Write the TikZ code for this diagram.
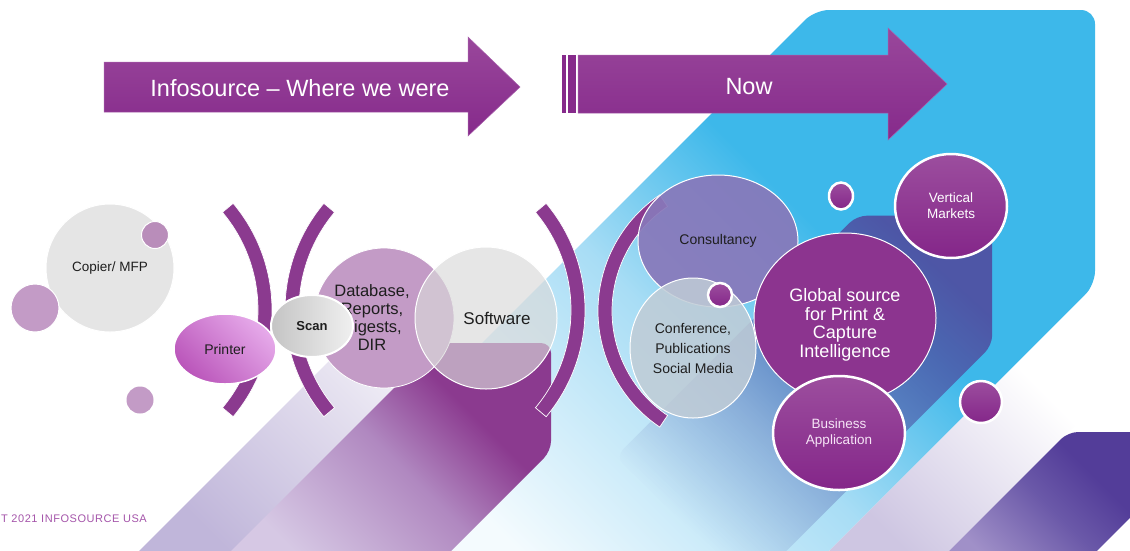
\documentclass[tikz,border=0pt]{standalone}
\usepackage{fontspec}
\setmainfont{Liberation Sans}
\newfontfamily\footfont[LetterSpace=5]{Liberation Sans}
\usetikzlibrary{shapes.geometric,calc,fadings}

\definecolor{lavA}{HTML}{C0B6DA}
\definecolor{lavB}{HTML}{E6E2F0}
\definecolor{purA}{HTML}{D6C8E4}
\definecolor{purB}{HTML}{B088C0}
\definecolor{purC}{HTML}{8B3A8F}
\definecolor{blA}{HTML}{F4FBFE}
\definecolor{blB}{HTML}{A8DDF5}
\definecolor{blC}{HTML}{3DB8EA}
\definecolor{inC}{HTML}{4E56A6}
\definecolor{brA}{HTML}{CEC6E2}
\definecolor{coA}{HTML}{A090C8}
\definecolor{coB}{HTML}{6A58A8}
\definecolor{coC}{HTML}{533D99}
\definecolor{arT}{HTML}{99479B}
\definecolor{arB}{HTML}{862A8B}
\definecolor{arE}{HTML}{A860AC}
\definecolor{brk}{HTML}{8B3A8F}
\definecolor{mauve}{HTML}{C39BC6}
\definecolor{mauveB}{HTML}{B98DBA}
\definecolor{lgray}{HTML}{E5E5E5}
\definecolor{txtd}{HTML}{1E1E1E}
\definecolor{prA}{HTML}{BA55BA}
\definecolor{prB}{HTML}{E6AAEA}
\definecolor{scA}{HTML}{C4C4C4}
\definecolor{scB}{HTML}{F0F0F0}
\definecolor{consc}{HTML}{8878BA}
\definecolor{confc}{HTML}{C0CCD6}
\definecolor{glob}{HTML}{8C348F}
\definecolor{vmT}{HTML}{9C4E9E}
\definecolor{vmB}{HTML}{842689}
\definecolor{bizt}{HTML}{F6E4F6}
\definecolor{footc}{HTML}{A555AA}

\pgfdeclarehorizontalshading{lavfade}{100bp}{color(0bp)=(lavA); color(25bp)=(lavA); color(52bp)=(lavB); color(68bp)=(white); color(100bp)=(white)}
\pgfdeclarehorizontalshading{purfade}{100bp}{color(0bp)=(purA); color(25bp)=(purA); color(50bp)=(purB); color(66bp)=(purC); color(100bp)=(purC)}
\pgfdeclarehorizontalshading{bluefade}{100bp}{color(0bp)=(blA); color(28bp)=(blA); color(47bp)=(blB); color(60bp)=(blC); color(100bp)=(blC)}
\pgfdeclarehorizontalshading{bandfade}{100bp}{color(0bp)=(brA); color(25bp)=(brA); color(58bp)=(white); color(100bp)=(white)}
\pgfdeclarehorizontalshading{cornfade}{100bp}{color(0bp)=(coA); color(25bp)=(coA); color(50bp)=(coB); color(66bp)=(coC); color(100bp)=(coC)}

\tikzset{
  arrowsty/.style={top color=arT, bottom color=arB, draw=arE, line width=0.5pt},
  arrowtxt/.style={text=white, font=\fontsize{23.5}{27}\selectfont},
  bracketsty/.style={fill=brk, draw=white, line width=0.7pt},
  dot/.style={circle, inner sep=0pt, draw=white, line width=1pt},
  pdot/.style={circle, inner sep=0pt, draw=white, line width=2.5pt, top color=vmT, bottom color=vmB},
  bubble/.style={ellipse, inner sep=0pt, align=center},
  darktxt/.style={text=txtd},
}

\newcommand{\mybracket}[6]{%
  \path[bracketsty] ($(#1,#2)+(#5:#4)$) arc[start angle=#5,end angle=#6,radius=#4]
    -- ($(#1,#2)+(#6:#3)$) arc[start angle=#6,end angle=#5,radius=#3] -- cycle;}

\begin{document}
\begin{tikzpicture}[x=1pt,y=-1pt]
\useasboundingbox (0,0) rectangle (1130,550);
\begin{scope}
\clip (0,0) rectangle (1130,550);
\fill[white] (0,0) rectangle (1130,550);
% lavender band (left)
\path[shading=lavfade, shading angle=45] (130,560) -- (420,270) -- (560,270) -- (560,560) -- cycle;
% big blue shape
\path[shading=bluefade, shading angle=45, rounded corners=14pt]
  (265,560) -- (815,10) -- (1095,10) -- (1095,285) -- (820,560) -- cycle;
% indigo shape
\path[fill=inC, path fading=east, fading angle=225, rounded corners=10pt]
  (716,560) -- (615,459) -- (857,217) -- (993,217) -- (993,347) -- (780,560) -- cycle;
% purple shape
\path[shading=purfade, shading angle=45, rounded corners=10pt]
  (222,560) -- (439,343) -- (551,343) -- (551,451) -- (442,560) -- cycle;
% bottom-right band
\path[shading=bandfade, shading angle=45] (820,560) -- (1140,240) -- (1140,360) -- (940,560) -- cycle;
% bottom-right purple corner
\path[shading=cornfade, shading angle=45, rounded corners=10pt]
  (940,560) -- (1068,432) -- (1140,432) -- (1140,560) -- cycle;
\fill[white] (1140,508) -- (1140,560) -- (1088,560) -- cycle;
\end{scope}

% arrows
\path[arrowsty] (104,62) -- (468,62) -- (468,37) -- (520,87) -- (468,136) -- (468,112) -- (104,112) -- cycle;
\node[arrowtxt] (were) at (300,88) {Infosource – Where we were};
\fill[arB] (562,55) rectangle (565.5,113);
\fill[arB] (568,55) rectangle (576,113);
\path[arrowsty] (578,55) -- (888,55) -- (888,28) -- (947,84) -- (888,140) -- (888,113) -- (578,113) -- cycle;
\node[arrowtxt] (now) at (749,87) {Now};

% brackets
\mybracket{106}{310}{152}{166}{-40}{40}
\mybracket{451}{310}{152}{166}{140}{220}
\mybracket{419}{310}{152}{166}{-40}{40}
\mybracket{738}{311}{126}{140}{124}{236}

% left group
\node[circle, inner sep=0pt, minimum size=128pt, fill=lgray, draw=white, line width=1pt] (copier) at (110,268) {};
\node[darktxt, font=\fontsize{13.5}{16}\selectfont] (copiertxt) at (110,268) {Copier/ MFP};
\node[dot, minimum size=27pt, fill=mauveB] (s1) at (155,235) {};
\node[dot, minimum size=48pt, fill=mauve] (s2) at (35,308) {};
\node[dot, minimum size=27pt, fill=mauve, draw=none] (s3) at (140,400) {};
\node[bubble, minimum width=102pt, minimum height=70pt, bottom color=prA, top color=prB, shading angle=-45, draw=white, line width=1.5pt, darktxt, font=\fontsize{14}{16}\selectfont] (printer) at (225,349) {Printer};

\node[circle, inner sep=0pt, minimum size=140pt, fill=mauve, draw=white, line width=0.8pt] (database) at (384,318) {};
\node[darktxt, align=center, font=\fontsize{16.5}{18}\selectfont] (dbtxt) at (372,318) {Database,\\Reports,\\Digests,\\DIR};
\node[circle, inner sep=0pt, minimum size=142pt, fill=gray!30, fill opacity=0.65, draw=white, draw opacity=1, line width=1pt] (software) at (486,318) {};
\node[darktxt, font=\fontsize{17}{20}\selectfont] (swtxt) at (497,318) {Software};
\node[bubble, minimum width=82pt, minimum height=62pt, left color=scA, right color=scB, draw=white, line width=2pt, darktxt, font=\bfseries\fontsize{13}{15}\selectfont] (scan) at (312,326) {Scan};

% right group
\node[bubble, minimum width=160pt, minimum height=132pt, fill=consc, fill opacity=0.92, text opacity=1, draw=white, line width=1pt, darktxt, font=\fontsize{14}{16}\selectfont] (consult) at (718,241) {Consultancy};
\node[bubble, minimum width=126pt, minimum height=140pt, fill=confc, fill opacity=0.85, text opacity=1, draw=white, line width=1pt, darktxt, font=\fontsize{14}{20}\selectfont] (conf) at (693,348) {Conference,\\Publications\\Social Media};
\node[pdot, minimum size=24pt] (s4) at (720,295) {};
\node[ellipse, inner sep=0pt, minimum width=182pt, minimum height=170pt, fill=glob, draw=white, line width=1pt] (global) at (845,318) {};
\node[text=white, align=center, font=\fontsize{18}{18.5}\selectfont] (globtxt) at (845,325) {Global source\\for Print \&\\Capture\\Intelligence};
\node[bubble, minimum width=112pt, minimum height=104pt, top color=vmT, bottom color=vmB, draw=white, line width=2.5pt, text=white, font=\fontsize{13.5}{16}\selectfont] (vertical) at (951,206) {Vertical\\Markets};
\node[bubble, minimum width=132pt, minimum height=114pt, top color=vmT, bottom color=vmB, draw=white, line width=2.5pt, text=bizt, font=\fontsize{13.5}{16}\selectfont] (business) at (839,433) {Business\\Application};
\node[pdot, ellipse, minimum width=24pt, minimum height=27pt] (s5) at (841,196) {};
\node[pdot, minimum size=42pt] (s6) at (981,402) {};

% footer
\node[anchor=east, text=footc, inner sep=0pt, font=\footfont\fontsize{11}{13}\selectfont] (footer) at (147,519) {T 2021 INFOSOURCE USA};
\end{tikzpicture}
\end{document}
